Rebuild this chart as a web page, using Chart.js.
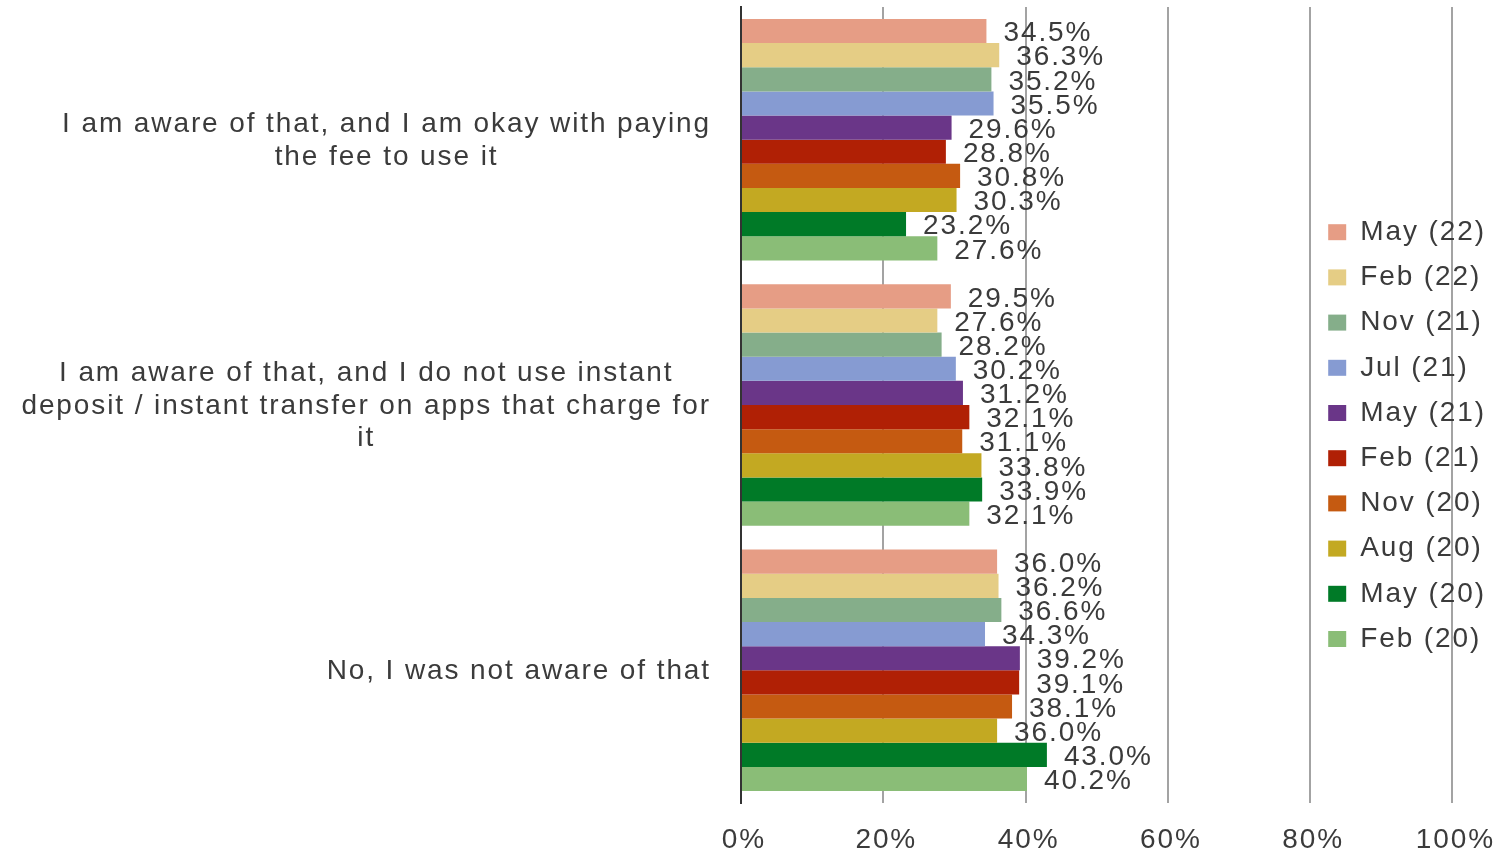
<!DOCTYPE html>
<html><head><meta charset="utf-8">
<style>html,body{margin:0;padding:0;background:#fff;overflow:hidden}#wrap{width:1512px;height:852px;position:relative}</style>
<script src="https://cdn.jsdelivr.net/npm/chart.js@4.4.0/dist/chart.umd.min.js"></script>
</head><body><div id="wrap"><canvas id="c"></canvas></div>
<script>
const categories = [
  ["I am aware of that, and I am okay with paying", "the fee to use it"],
  ["I am aware of that, and I do not use instant", "deposit / instant transfer on apps that charge for", "it"],
  ["No, I was not aware of that"]
];
const seriesNames = ["May (22)", "Feb (22)", "Nov (21)", "Jul (21)", "May (21)", "Feb (21)", "Nov (20)", "Aug (20)", "May (20)", "Feb (20)"];
const seriesColors = ["#E69D85", "#E5CD85", "#85AE8A", "#869BD2", "#6A3688", "#B02005", "#C55A11", "#C3A922", "#007A27", "#8ABD77"];
const may22 = [34.5, 29.5, 36.0];
const feb22 = [36.3, 27.6, 36.2];
const nov21 = [35.2, 28.2, 36.6];
const jul21 = [35.5, 30.2, 34.3];
const may21 = [29.6, 31.2, 39.2];
const feb21 = [28.8, 32.1, 39.1];
const nov20 = [30.8, 31.1, 38.1];
const aug20 = [30.3, 33.8, 36.0];
const may20 = [23.2, 33.9, 43.0];
const feb20 = [27.6, 32.1, 40.2];
const seriesValues = [may22, feb22, nov21, jul21, may21, feb21, nov20, aug20, may20, feb20];
const xTickValues = [0, 20, 40, 60, 80, 100];
const xTickLabels = ["0%", "20%", "40%", "60%", "80%", "100%"];

const FONT = "'Liberation Sans', Arial, sans-serif";
const FS = 28;
const LS = '1.9px';
const TXT = '#3b3b3b';

const helperPlugin = {
  id: 'helper',
  beforeInit(chart) { chart.ctx.letterSpacing = LS; },
  afterInit(chart) {
    const lg = chart.legend;
    const orig = lg.fit;
    lg.fit = function () { orig.call(this); this.width = 59; };
  },
  beforeUpdate(chart) { chart.ctx.letterSpacing = LS; },
  beforeLayout(chart) { chart.ctx.letterSpacing = LS; },
  afterLayout(chart) {
    const lg = chart.legend;
    lg.left = 1311; lg.right = 1512; lg.width = 201;
    lg.top = 201; lg.bottom = 852; lg.height = 651;
  },
  beforeDraw(chart) { chart.ctx.letterSpacing = LS; },
  afterDatasetsDraw(chart) {
    const ctx = chart.ctx;
    ctx.save();
    ctx.letterSpacing = LS;
    ctx.font = FS + 'px ' + FONT;
    ctx.fillStyle = TXT;
    ctx.textAlign = 'left';
    ctx.textBaseline = 'middle';
    chart.data.datasets.forEach((ds, i) => {
      const meta = chart.getDatasetMeta(i);
      meta.data.forEach((bar, j) => {
        ctx.fillText(ds.data[j].toFixed(1) + '%', bar.x + 17, bar.y + 2.5);
      });
    });
    ctx.restore();
  },
  afterDraw(chart) {
    const ctx = chart.ctx;
    const ys = chart.scales.y;
    ctx.save();
    ctx.letterSpacing = LS;
    ctx.font = FS + 'px ' + FONT;
    ctx.fillStyle = TXT;
    ctx.textAlign = 'center';
    ctx.textBaseline = 'middle';
    const lh = 32.5;
    categories.forEach((lines, i) => {
      const cy = ys.getPixelForValue(i) + 1;
      const w = Math.max(...lines.map(l => ctx.measureText(l).width));
      const right = ys.right - 30;
      const cx = right - w / 2;
      const y0 = cy - (lines.length - 1) * lh / 2;
      lines.forEach((l, k) => ctx.fillText(l, cx, y0 + k * lh));
    });
    ctx.restore();
  }
};

new Chart(document.getElementById('c'), {
  type: 'bar',
  data: {
    labels: categories.map(c => c.join(' ')),
    datasets: seriesNames.map((n, i) => ({
      label: n,
      data: seriesValues[i],
      backgroundColor: seriesColors[i],
      borderWidth: 0,
      categoryPercentage: 0.91,
      barPercentage: 1
    }))
  },
  options: {
    indexAxis: 'y',
    responsive: true,
    maintainAspectRatio: false,
    animation: false,
    devicePixelRatio: 1,
    layout: { padding: { top: 7, left: 0, right: 0, bottom: 0 } },
    plugins: {
      legend: {
        position: 'right',
        align: 'start',
        labels: {
          font: { family: FONT, size: FS },
          color: TXT,
          boxWidth: 18,
          boxHeight: 16,
          padding: 17.2
        }
      },
      tooltip: { enabled: false }
    },
    scales: {
      x: {
        type: 'linear',
        min: 0, max: 100,
        afterBuildTicks(scale) { scale.ticks = xTickValues.map(v => ({ value: v })); },
        ticks: {
          font: { family: FONT, size: FS },
          color: TXT,
          padding: 20,
          labelOffset: 3,
          maxRotation: 0,
          callback: (v) => xTickLabels[xTickValues.indexOf(v)]
        },
        grid: { color: '#a3a3a3', lineWidth: 2, drawTicks: false },
        border: { display: false },
        afterFit(scale) { scale.height = 49; }
      },
      y: {
        type: 'category',
        ticks: { display: false },
        grid: { display: false, drawTicks: false },
        border: { display: true, color: '#333333', width: 2 },
        afterFit(scale) { scale.width = 741; }
      }
    }
  },
  plugins: [helperPlugin]
});
</script>
</body></html>
